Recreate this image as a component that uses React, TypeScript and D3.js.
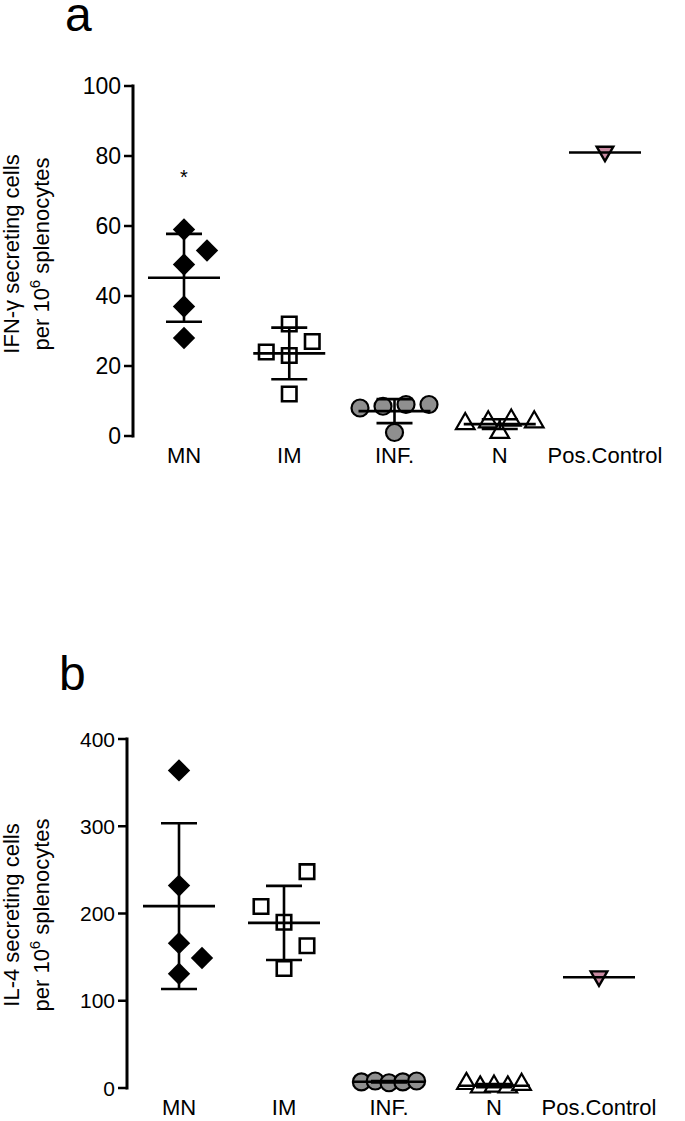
import React from "react";
import * as d3 from "d3";

const categories = ["MN", "IM", "INF.", "N", "Pos.Control"];

// Panel a: IFN-gamma
const ifnMN = [59, 53, 49, 37, 28];
const ifnIM = [32, 27, 24, 23, 12];
const ifnINF = [8, 8.5, 9, 9, 1];
const ifnN = [3.5, 4, 4.5, 4, 1];
const ifnPos = [81];
const ifnTicks = [0, 20, 40, 60, 80, 100];

// Panel b: IL-4
const il4MN = [364, 232, 166, 149, 131];
const il4IM = [248, 208, 190, 163, 137];
const il4INF = [7, 8, 6, 7, 8];
const il4N = [5, 1, 2, 1, 4];
const il4Pos = [127];
const il4Ticks = [0, 100, 200, 300, 400];

// horizontal spread of replicate points (in units of marker spacing)
const ifnJitter = [
  [0, 1, 0, 0, 0],
  [0, 1, -1, 0, 0],
  [-1.5, -0.5, 0.5, 1.5, 0],
  [-1.5, -0.5, 0.5, 1.5, 0],
  [0],
];
const il4Jitter = [
  [0, 0, 0, 1, 0],
  [1, -1, 0, 1, 0],
  [-1.2, -0.6, 0, 0.6, 1.2],
  [-1.2, -0.6, 0, 0.6, 1.2],
  [0],
];

const FONT = "'Liberation Sans', Arial, sans-serif";

type PanelProps = {
  letter: string;
  letterY: number;
  groups: number[][];
  jitter: number[][];
  ticks: number[];
  yMax: number;
  yTop: number;
  yBottom: number;
  axisX: number;
  xFirst: number;
  xLast: number;
  title1: React.ReactNode;
  titleCenter: number;
  tickFont: number;
  star?: number;
};

function Marker({ kind, x, y }: { kind: number; x: number; y: number }) {
  if (kind === 0) {
    const p = d3.symbol(d3.symbolSquare, 250)()!;
    return <path d={p} transform={`translate(${x},${y}) rotate(45)`} fill="#000" />;
  }
  if (kind === 1) {
    const p = d3.symbol(d3.symbolSquare, 210)()!;
    return <path d={p} transform={`translate(${x},${y})`} fill="#fff" stroke="#000" strokeWidth={2.6} />;
  }
  if (kind === 2) {
    return <circle cx={x} cy={y} r={8.5} fill="#8f8f8f" stroke="#000" strokeWidth={2.2} />;
  }
  if (kind === 3) {
    const p = d3.symbol(d3.symbolTriangle, 150)()!;
    return <path d={p} transform={`translate(${x},${y})`} fill="#fff" stroke="#000" strokeWidth={2.2} />;
  }
  const p = d3.symbol(d3.symbolTriangle, 120)()!;
  return <path d={p} transform={`translate(${x},${y - 1}) rotate(180)`} fill="#c98aa2" stroke="#000" strokeWidth={2.4} />;
}

function Panel(props: PanelProps) {
  const y = d3.scaleLinear().domain([0, props.yMax]).range([props.yBottom, props.yTop]);
  const x = d3.scalePoint<string>().domain(categories).range([props.xFirst, props.xLast]);
  const unit = 23;
  return (
    <g fontFamily={FONT}>
      <text x={props.axisX - 68} y={props.letterY} fontSize={48}>{props.letter}</text>
      {/* y axis */}
      <line x1={props.axisX} x2={props.axisX} y1={props.yTop - 1.5} y2={props.yBottom + 1.5} stroke="#000" strokeWidth={3} />
      {props.ticks.map((t) => (
        <g key={t}>
          <line x1={props.axisX - 9} x2={props.axisX} y1={y(t)} y2={y(t)} stroke="#000" strokeWidth={2.5} />
          <text x={props.axisX - 12} y={y(t)} dy="0.36em" textAnchor="end" fontSize={props.tickFont}>{t}</text>
        </g>
      ))}
      {/* y title */}
      <g transform={`translate(19,${props.titleCenter}) rotate(-90)`}>
        <text x={0} y={0} textAnchor="middle" fontSize={22}>{props.title1}</text>
        <text x={0} y={30} textAnchor="middle" fontSize={22}>
          per 10<tspan dy={-9} fontSize={15}>6</tspan><tspan dy={9}> splenocytes</tspan>
        </text>
      </g>
      {/* groups */}
      {props.groups.map((vals, gi) => {
        const cx = x(categories[gi])!;
        const m = d3.mean(vals)!;
        const sd = vals.length > 1 ? d3.deviation(vals)! : 0;
        return (
          <g key={gi}>
            {vals.map((v, i) => (
              <Marker key={i} kind={gi} x={cx + props.jitter[gi][i] * unit} y={y(v)} />
            ))}
            <line x1={cx - 36} x2={cx + 36} y1={y(m)} y2={y(m)} stroke="#000" strokeWidth={2.6} />
            {sd > 0 && (
              <g stroke="#000" strokeWidth={2.6}>
                <line x1={cx} x2={cx} y1={y(m - sd)} y2={y(m + sd)} />
                <line x1={cx - 18} x2={cx + 18} y1={y(m + sd)} y2={y(m + sd)} />
                <line x1={cx - 18} x2={cx + 18} y1={y(m - sd)} y2={y(m - sd)} />
              </g>
            )}
          </g>
        );
      })}
      {props.star !== undefined && (
        <text x={x("MN")!} y={y(props.star)} dy="0.7em" textAnchor="middle" fontSize={20}>*</text>
      )}
      {/* category labels */}
      {categories.map((c) => (
        <text key={c} x={x(c)!} y={props.yBottom + 27} textAnchor="middle" fontSize={22}>{c}</text>
      ))}
    </g>
  );
}

export default function App() {
  return (
    <svg
      width={685}
      height={1121}
      style={{ position: "absolute", left: 0, top: 0, background: "#fff" }}
    >
      <rect width={685} height={1121} fill="#fff" />
      <Panel
        letter="a"
        letterY={31}
        groups={[ifnMN, ifnIM, ifnINF, ifnN, ifnPos]}
        jitter={ifnJitter}
        ticks={ifnTicks}
        yMax={100}
        yTop={86}
        yBottom={436}
        axisX={133}
        xFirst={184}
        xLast={605}
        title1={<>IFN-γ secreting cells</>}
        titleCenter={254}
        tickFont={23}
        star={76}
      />
      <Panel
        letter="b"
        letterY={690}
        groups={[il4MN, il4IM, il4INF, il4N, il4Pos]}
        jitter={il4Jitter}
        ticks={il4Ticks}
        yMax={400}
        yTop={739}
        yBottom={1088}
        axisX={127}
        xFirst={179}
        xLast={599}
        title1={<>IL-4 secreting cells</>}
        titleCenter={915}
        tickFont={21}
      />
    </svg>
  );
}
